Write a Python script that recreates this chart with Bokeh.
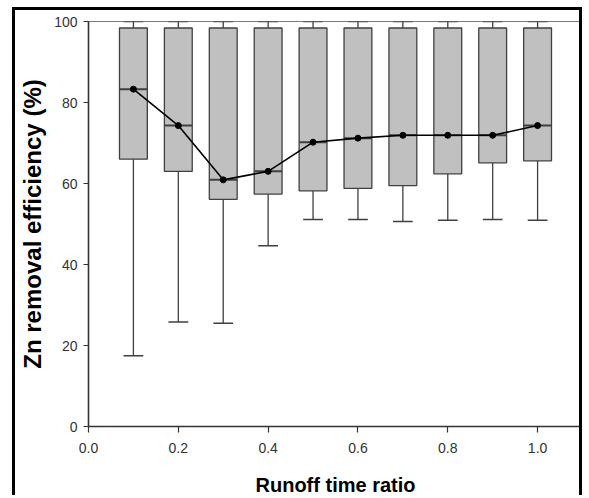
from bokeh.plotting import figure
from bokeh.models import FixedTicker, NumeralTickFormatter, Range1d
from bokeh.embed import file_html
from bokeh.resources import INLINE

# Runoff time ratio groups and box-plot statistics of Zn removal efficiency (%)
ratio = [0.1, 0.2, 0.3, 0.4, 0.5, 0.6, 0.7, 0.8, 0.9, 1.0]
whisker_high = [100, 100, 100, 100, 100, 100, 100, 100, 100, 100]
q3 = [98.4, 98.4, 98.4, 98.4, 98.4, 98.4, 98.4, 98.4, 98.4, 98.4]
median = [83.3, 74.3, 60.9, 63.0, 70.2, 71.2, 71.9, 71.9, 71.9, 74.3]
q1 = [66.0, 63.0, 56.1, 57.4, 58.2, 58.8, 59.5, 62.4, 65.1, 65.6]
whisker_low = [17.5, 25.8, 25.5, 44.6, 51.1, 51.1, 50.6, 50.9, 51.1, 50.9]

x_ticks = [0.0, 0.2, 0.4, 0.6, 0.8, 1.0]
y_ticks = [0, 20, 40, 60, 80, 100]

box_w = 0.062
cap_w = 0.044

p = figure(
    width=570, height=488,
    x_range=Range1d(0, 1.1), y_range=Range1d(0, 100),
    output_backend="svg", toolbar_location=None,
    min_border_left=73, min_border_right=3, min_border_top=11, min_border_bottom=72,
    background_fill_color="white", border_fill_color="white",
)
p.styles = {
    "position": "absolute", "left": "12px", "top": "7px",
    "border-left": "3px solid black", "border-top": "3px solid black",
    "border-right": "3px solid black",
}

p.grid.visible = False
p.outline_line_color = "#7a7a7a"
p.outline_line_width = 1.2

for ax in (p.xaxis[0], p.yaxis[0]):
    ax.axis_line_color = "#333333"
    ax.axis_line_width = 1.5
    ax.major_tick_line_color = "#333333"
    ax.major_tick_line_width = 1.2
    ax.major_tick_out = 6
    ax.major_tick_in = 0
    ax.minor_tick_line_color = None
    ax.major_label_text_font = "Liberation Sans"
    ax.major_label_text_font_size = "14px"
    ax.major_label_text_color = "#333333"
    ax.axis_label_text_font = "Liberation Sans"
    ax.axis_label_text_font_style = "bold"
    ax.axis_label_text_color = "black"

p.xaxis.ticker = FixedTicker(ticks=x_ticks)
p.xaxis.formatter = NumeralTickFormatter(format="0.0")
p.xaxis.major_label_standoff = 10
p.xaxis.axis_label = "Runoff time ratio"
p.xaxis.axis_label_text_font_size = "20px"
p.xaxis.axis_label_standoff = 18

p.yaxis.ticker = FixedTicker(ticks=y_ticks)
p.yaxis.major_tick_out = 5
p.yaxis.major_label_standoff = 6
p.yaxis.axis_label = "Zn removal efficiency (%)"
p.yaxis.axis_label_text_font_size = "24px"
p.yaxis.axis_label_standoff = 5

edge = "#404040"

# whiskers
p.segment(x0=ratio, y0=q3, x1=ratio, y1=whisker_high, line_color=edge, line_width=1.3)
p.segment(x0=ratio, y0=q1, x1=ratio, y1=whisker_low, line_color=edge, line_width=1.3)
p.segment(x0=[r - cap_w / 2 for r in ratio], y0=whisker_low,
          x1=[r + cap_w / 2 for r in ratio], y1=whisker_low, line_color=edge, line_width=1.5)
p.segment(x0=[r - cap_w / 2 for r in ratio], y0=whisker_high,
          x1=[r + cap_w / 2 for r in ratio], y1=whisker_high, line_color=edge, line_width=1.5)

# boxes
p.vbar(x=ratio, width=box_w, bottom=q1, top=q3,
       fill_color="#c0c0c0", line_color=edge, line_width=1.3)

# medians inside boxes
p.segment(x0=[r - box_w / 2 for r in ratio], y0=median,
          x1=[r + box_w / 2 for r in ratio], y1=median, line_color=edge, line_width=2)

# median trend line
p.line(ratio, median, line_color="black", line_width=1.6)
p.scatter(ratio, median, size=6, fill_color="black", line_color="black")

open("out.html", "w").write(file_html(p, INLINE))
